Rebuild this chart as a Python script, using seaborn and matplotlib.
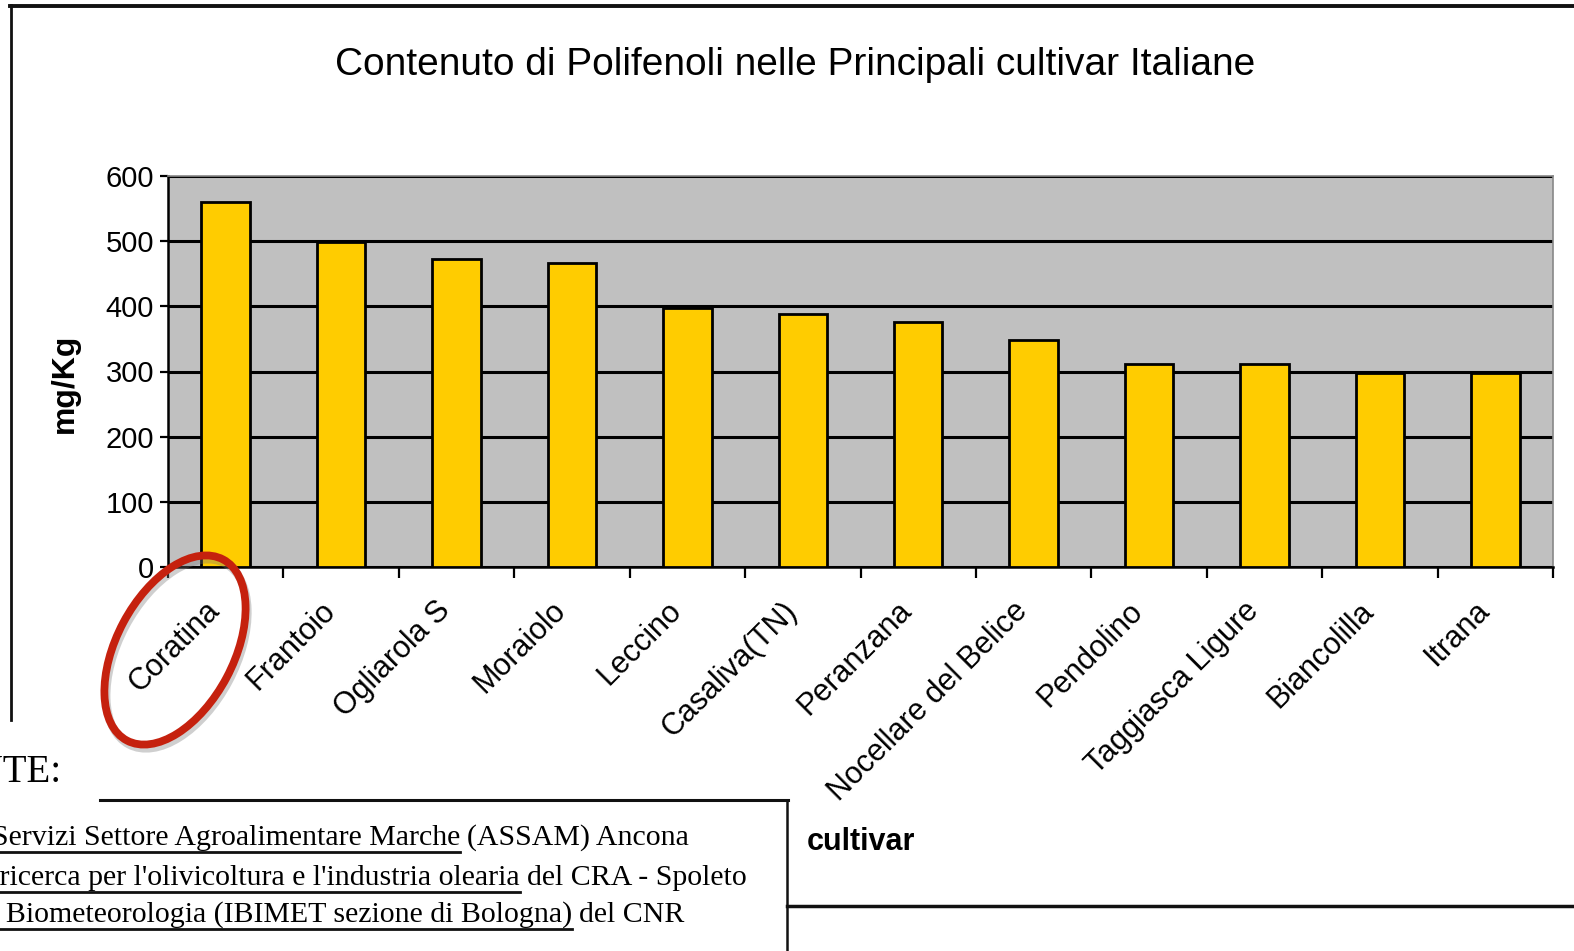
import numpy as np
import pandas as pd
import matplotlib
matplotlib.use("Agg")
import matplotlib.pyplot as plt
import seaborn as sns
from matplotlib.patches import Ellipse
from matplotlib.lines import Line2D
from matplotlib.transforms import IdentityTransform

# ---- data ----
cultivars = ["Coratina", "Frantoio", "Ogliarola S", "Moraiolo", "Leccino", "Casaliva(TN)",
             "Peranzana", "Nocellare del Belice", "Pendolino", "Taggiasca Ligure",
             "Biancolilla", "Itrana"]
polifenoli = [560, 498, 472, 466, 397, 388, 376, 348, 311, 311, 298, 298]
y_ticks = [0, 100, 200, 300, 400, 500, 600]
title = "Contenuto di Polifenoli nelle Principali cultivar Italiane"
y_label = "mg/Kg"
x_label = "cultivar"
fonte_underlined = ["Agenzia Servizi Settore Agroalimentare Marche",
                    "Centro di ricerca per l'olivicoltura e l'industria olearia",
                    "Istituto di Biometeorologia (IBIMET sezione di Bologna)"]
fonte_rest = ["(ASSAM) Ancona", "del CRA - Spoleto", "del CNR"]

W, H = 1574, 951
fig = plt.figure(figsize=(W / 100, H / 100), dpi=100)
fig.patch.set_facecolor("white")

SANS = ["Liberation Sans", "DejaVu Sans"]
SERIF = ["Liberation Serif", "DejaVu Serif"]

def fx(px):
    return px / W

def fy(py):
    return 1 - py / H

# axes (plot area) placement
L, R, T, B = 168, 1553, 176, 567
ax = fig.add_axes([fx(L), fy(B), fx(R - L), (B - T) / H])
ax.set_facecolor("#C0C0C0")

df = pd.DataFrame({"cultivar": cultivars, "val": polifenoli})
sns.barplot(data=df, x="cultivar", y="val", color="#FFCC00", saturation=1,
            edgecolor="black", linewidth=2, width=0.42, ax=ax, zorder=3)

ax.set_xlim(-0.5, len(cultivars) - 0.5)
ax.set_ylim(0, 600)
ax.set_yticks(y_ticks)
ax.set_yticklabels([str(v) for v in y_ticks], fontsize=21, family=SANS)
ax.yaxis.grid(True, color="black", linewidth=2.2)
ax.xaxis.grid(False)
ax.set_axisbelow(True)

ax.set_xticks(range(len(cultivars)))
ax.set_xticklabels(cultivars, rotation=45, ha="right", va="bottom",
                   rotation_mode="anchor", fontsize=22, family=SANS)
ax.set_xticks(np.arange(-0.5, len(cultivars), 1), minor=True)
ax.tick_params(axis="x", which="major", length=0, pad=36)
ax.tick_params(axis="x", which="minor", length=8, width=1.6, color="black", direction="out")
ax.tick_params(axis="y", which="major", length=6, width=1.6, color="black", pad=4)

for s in ["left", "bottom"]:
    ax.spines[s].set_color("black")
    ax.spines[s].set_linewidth(1.8)
for s in ["top", "right"]:
    ax.spines[s].set_color("#888888")
    ax.spines[s].set_linewidth(1.2)

ax.set_ylabel(y_label, fontsize=23, fontweight="bold", family=SANS)
ax.yaxis.set_label_coords((80 - L) / (R - L), 0.47)
ax.set_xlabel(x_label, fontsize=22, fontweight="bold", family=SANS)
ax.xaxis.label.set_va("center")
ax.xaxis.set_label_coords(0.5, (B - 842) / (B - T))

fig.text(fx(795), fy(65), title, ha="center", va="center", fontsize=28, family=SANS)

# chart frame lines (screenshot borders)
def hline(y, x0, x1, lw):
    fig.add_artist(Line2D([fx(x0), fx(x1)], [fy(y), fy(y)], color="#111111", lw=lw,
                          transform=fig.transFigure))

def vline(x, y0, y1, lw):
    fig.add_artist(Line2D([fx(x), fx(x)], [fy(y0), fy(y1)], color="#111111", lw=lw,
                          transform=fig.transFigure))

hline(6, 10, W + 5, 2.8)
vline(11, 5, 720, 2.0)
hline(800, 100, 788, 2.2)
vline(787, 800, H + 5, 1.8)
hline(906, 787, W + 5, 2.5)

# FONTE block
fig.text(fx(62), fy(772), "FONTE:", ha="right", va="center", fontsize=28, family=SERIF)

row_base = [845, 885, 922]
u_end = [460, 520, 572]
under_texts = []
for yb, xe, tu, tr in zip(row_base, u_end, fonte_underlined, fonte_rest):
    t1 = fig.text(fx(xe), fy(yb), tu, ha="right", va="baseline", fontsize=21.5, family=SERIF)
    fig.text(fx(xe + 7), fy(yb), tr, ha="left", va="baseline", fontsize=21.5, family=SERIF)
    under_texts.append((t1, yb))

fig.canvas.draw()
rend = fig.canvas.get_renderer()
for t1, yb in under_texts:
    bb = t1.get_window_extent(rend)
    x0 = max(bb.x0, 0)
    ypix = H - (yb + 7)
    fig.add_artist(Line2D([x0, bb.x1], [ypix, ypix], color="#111111", lw=2.0,
                          transform=IdentityTransform()))

# red highlight ellipse around Coratina
cx, cy = 175, H - 650
shadow = Ellipse((cx + 2, cy - 4), width=205, height=117, angle=62, fill=False,
                 edgecolor="#777777", alpha=0.35, lw=5.8, transform=IdentityTransform(),
                 zorder=9)
fig.add_artist(shadow)
ell = Ellipse((cx, cy), width=205, height=117, angle=62, fill=False,
              edgecolor="#C5210E", lw=5.6, transform=IdentityTransform(), zorder=10)
fig.add_artist(ell)

fig.savefig("out.png", dpi=100, facecolor="white")
